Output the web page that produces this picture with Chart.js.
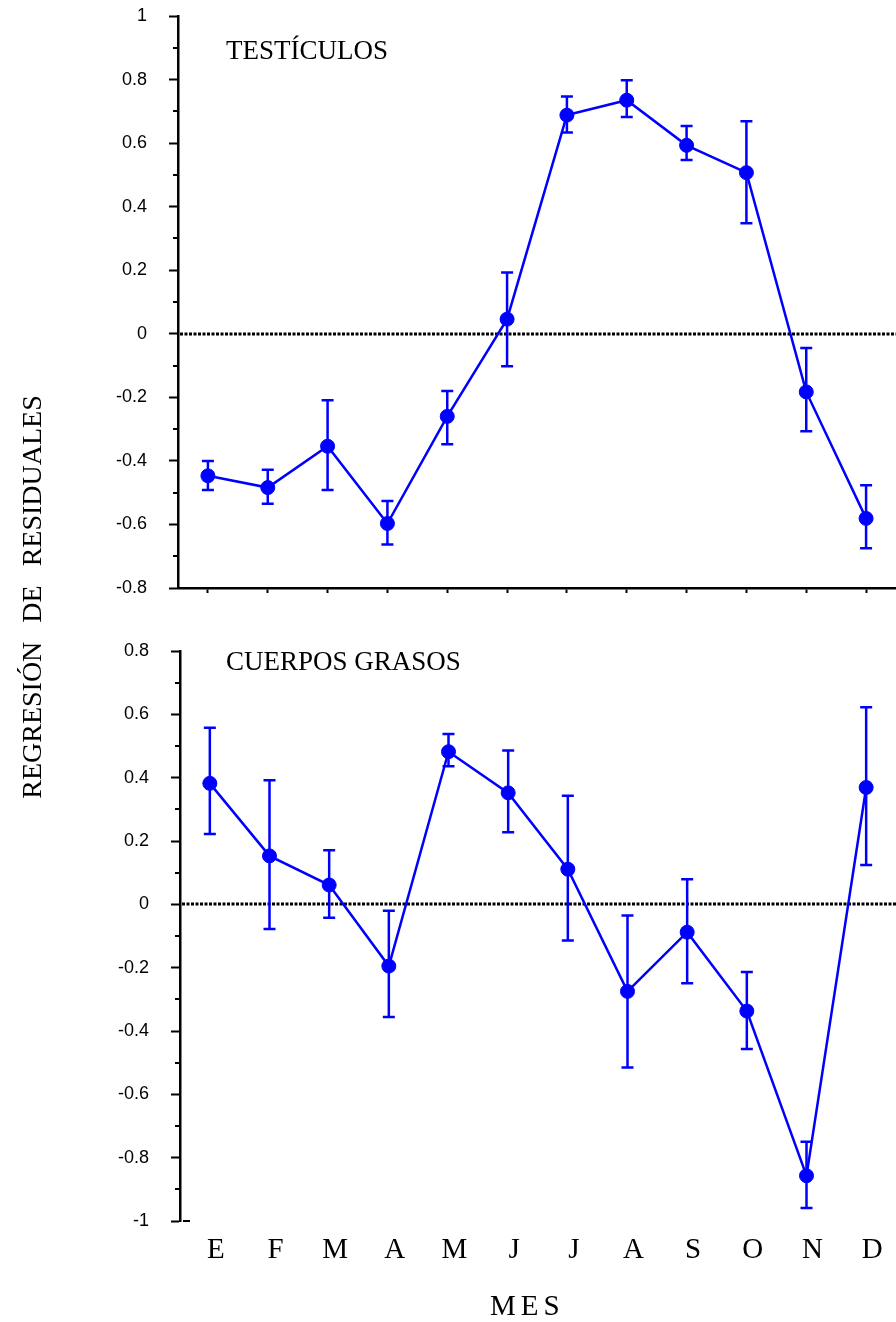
<!DOCTYPE html>
<html>
<head>
<meta charset="utf-8">
<script src="https://cdn.jsdelivr.net/npm/chart.js@4.4.1/dist/chart.umd.min.js"></script>
<style>
  html, body { margin: 0; padding: 0; background: #fff; }
  #wrap { position: relative; width: 896px; height: 1322px; overflow: hidden; }
  canvas { position: absolute; left: 0; }
  #topChart { top: 0; }
  #bottomChart { top: 620px; }
  .lbl { position: absolute; font-family: 'Liberation Serif', 'Times New Roman', serif; color: #000; white-space: nowrap; }
  .panel { font-size: 27px; line-height: 27px; left: 226px; }
  #ytitle { font-size: 28px; line-height: 28px; width: 500px; text-align: center; word-spacing: 12px;
            left: -218px; top: 583px; transform: rotate(-90deg); transform-origin: 50% 50%; }
  #xtitle { font-size: 29px; line-height: 29px; letter-spacing: 5px; left: 490px; top: 1291px; }
</style>
</head>
<body>
<div id="wrap">
  <canvas id="topChart" width="896" height="610"></canvas>
  <canvas id="bottomChart" width="896" height="702"></canvas>
  <div class="lbl panel" style="top:37px">TESTÍCULOS</div>
  <div class="lbl panel" style="top:648px">CUERPOS GRASOS</div>
  <div class="lbl" id="ytitle">REGRESIÓN DE RESIDUALES</div>
  <div class="lbl" id="xtitle">MES</div>
</div>
<script>
const months = ['E', 'F', 'M', 'A', 'M', 'J', 'J', 'A', 'S', 'O', 'N', 'D'];

// testículos: mean and error bar ends
const testMean = [-0.447, -0.484, -0.354, -0.597, -0.26, 0.046, 0.688, 0.735, 0.593, 0.507, -0.183, -0.581];
const testHi   = [-0.40, -0.428, -0.209, -0.526, -0.18, 0.193, 0.747, 0.798, 0.654, 0.669, -0.045, -0.477];
const testLo   = [-0.492, -0.535, -0.492, -0.663, -0.348, -0.102, 0.633, 0.682, 0.547, 0.348, -0.307, -0.675];

// cuerpos grasos
const fatMean = [0.382, 0.153, 0.061, -0.195, 0.482, 0.352, 0.111, -0.275, -0.088, -0.337, -0.857, 0.369];
const fatHi   = [0.558, 0.392, 0.171, -0.02, 0.538, 0.486, 0.343, -0.035, 0.079, -0.214, -0.75, 0.622];
const fatLo   = [0.222, -0.078, -0.042, -0.356, 0.436, 0.228, -0.114, -0.515, -0.249, -0.457, -0.959, 0.124];

const BLUE = '#0000ff';

// dotted zero line + minor ticks on the y axis
const axisExtras = {
    id: 'axisExtras',
    beforeDatasetsDraw(chart, args, opts) {
        const { ctx, chartArea } = chart;
        const y = chart.scales.y;
        ctx.save();
        const y0 = Math.round(y.getPixelForValue(0));
        ctx.strokeStyle = '#000';
        ctx.lineWidth = 3;
        ctx.setLineDash([3, 1.5]);
        ctx.beginPath();
        ctx.moveTo(chartArea.left + 2, y0);
        ctx.lineTo(chart.width, y0);
        ctx.stroke();

        ctx.setLineDash([]);
        ctx.lineWidth = 2;
        ctx.beginPath();
        for (let v = y.min + 0.1; v < y.max; v += 0.2) {
            const py = Math.round(y.getPixelForValue(v));
            ctx.moveTo(chartArea.left - 5, py);
            ctx.lineTo(chartArea.left, py);
        }
        if (opts.stub) {
            const pb = Math.round(y.getPixelForValue(y.min));
            ctx.moveTo(chartArea.left + 3, pb);
            ctx.lineTo(chartArea.left + 10, pb);
        }
        ctx.stroke();
        ctx.restore();
    }
};

const errorBars = {
    id: 'errorBars',
    beforeDatasetsDraw(chart, args, opts) {
        const { ctx } = chart;
        const y = chart.scales.y;
        const meta = chart.getDatasetMeta(0);
        ctx.save();
        ctx.strokeStyle = BLUE;
        ctx.lineWidth = 2.5;
        ctx.beginPath();
        meta.data.forEach((pt, i) => {
            const top = y.getPixelForValue(opts.hi[i]);
            const bot = y.getPixelForValue(opts.lo[i]);
            ctx.moveTo(pt.x, top);
            ctx.lineTo(pt.x, bot);
            ctx.moveTo(pt.x - 6, top);
            ctx.lineTo(pt.x + 6, top);
            ctx.moveTo(pt.x - 6, bot);
            ctx.lineTo(pt.x + 6, bot);
        });
        ctx.stroke();
        ctx.restore();
    }
};

function fmt(v) {
    return String(Math.round(v * 10) / 10);
}

function makeChart(id, values, hi, lo, yMin, yMax, cfg) {
    return new Chart(document.getElementById(id), {
        type: 'line',
        data: {
            labels: months,
            datasets: [{
                data: values,
                borderColor: BLUE,
                borderWidth: 2.5,
                backgroundColor: BLUE,
                pointRadius: 7,
                pointHoverRadius: 7,
                pointBorderWidth: 1,
                pointBackgroundColor: BLUE,
                pointBorderColor: BLUE,
                tension: 0,
                clip: false
            }]
        },
        options: {
            responsive: false,
            animation: false,
            layout: { autoPadding: false, padding: { top: cfg.padTop, right: 0, bottom: 0, left: 0 } },
            plugins: {
                legend: { display: false },
                tooltip: { enabled: false },
                errorBars: { hi: hi, lo: lo },
                axisExtras: { stub: cfg.stub }
            },
            scales: {
                x: {
                    type: 'category',
                    offset: true,
                    afterFit: s => {
                        s.height = cfg.xHeight;
                        s.paddingLeft = 0;
                        s.paddingRight = 0;
                    },
                    border: cfg.xBorder,
                    grid: cfg.xGrid,
                    ticks: cfg.xTicks
                },
                y: {
                    min: yMin,
                    max: yMax,
                    afterFit: s => {
                        s.width = cfg.yWidth;
                        s.paddingTop = 0;
                        s.paddingBottom = 0;
                    },
                    border: { display: true, color: '#000', width: 2.5 },
                    grid: { drawOnChartArea: false, tickLength: 9, tickWidth: 2, tickColor: '#000' },
                    ticks: {
                        stepSize: 0.2,
                        padding: 22,
                        color: '#000',
                        font: { family: "'Liberation Sans', Arial, sans-serif", size: 18 },
                        callback: v => fmt(v)
                    }
                }
            }
        },
        plugins: [axisExtras, errorBars]
    });
}

makeChart('topChart', testMean, testHi, testLo, -0.8, 1, {
    padTop: 16,
    xHeight: 22,
    yWidth: 178,
    stub: false,
    xBorder: { display: true, color: '#000', width: 2.5 },
    xGrid: { display: true, drawOnChartArea: false, tickLength: 5, tickWidth: 2, tickColor: '#000' },
    xTicks: { display: false }
});

makeChart('bottomChart', fatMean, fatHi, fatLo, -1, 0.8, {
    padTop: 31,
    xHeight: 101,
    yWidth: 180,
    stub: true,
    xBorder: { display: false },
    xGrid: { display: false },
    xTicks: {
        color: '#000',
        padding: 4,
        labelOffset: 6,
        maxRotation: 0,
        autoSkip: false,
        font: { family: "'Liberation Serif', 'Times New Roman', serif", size: 29 }
    }
});
</script>
</body>
</html>
